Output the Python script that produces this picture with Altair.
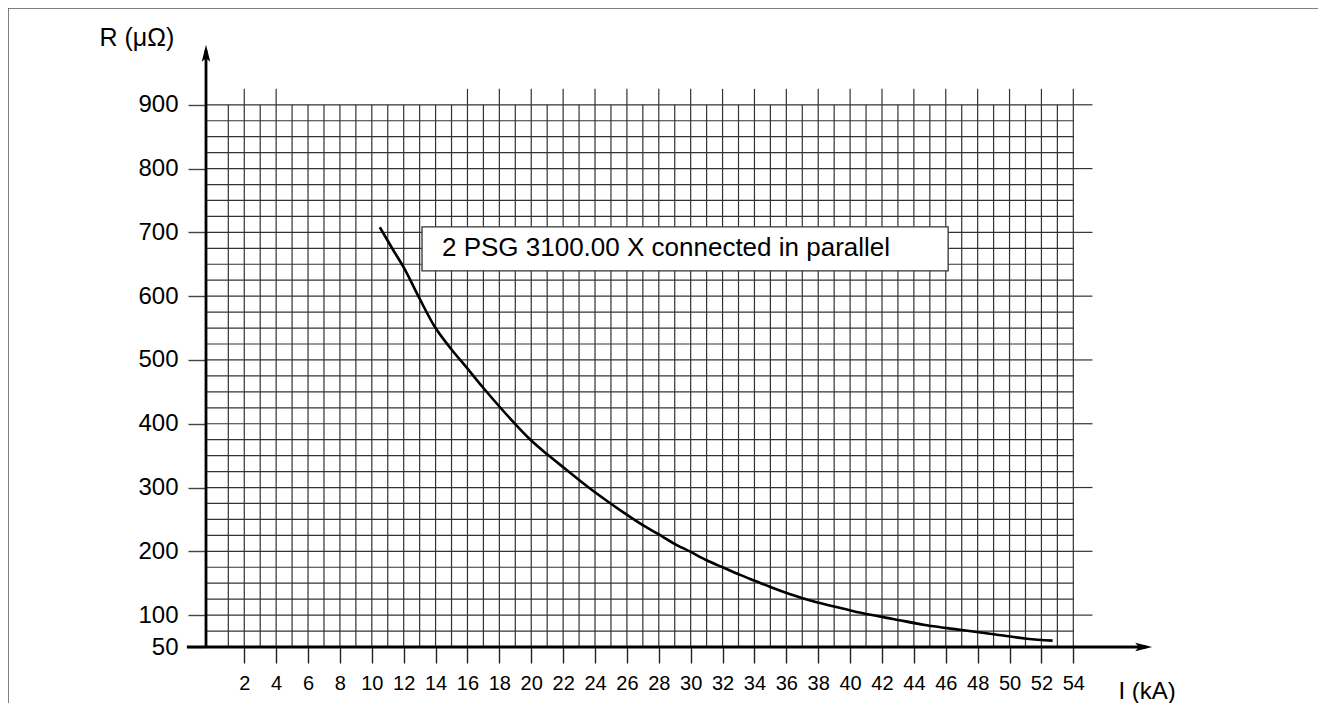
import altair as alt
import pandas as pd

# ---- data ----
current_ka = [10.5, 11.35, 12.0, 13.0, 13.9, 14.95, 15.95, 17.0, 18.0, 18.9, 19.9,
              21.0, 22.2, 23.5, 24.8, 25.9, 27.0, 27.9, 28.9, 30.0, 31.0, 32.0,
              33.1, 34.1, 35.0, 36.2, 37.9, 39.6, 40.6, 42.7, 44.8, 46.9, 49.0,
              51.1, 52.7]
resistance = [708, 672, 645, 596, 554, 518, 488, 456, 427, 402, 376,
              352, 328, 302, 278, 259, 241, 228, 213, 199, 186, 175,
              163, 153, 144, 133, 120, 110, 104, 94, 84, 77, 70,
              63, 60]

x_tick_labels = [2, 4, 6, 8, 10, 12, 14, 16, 18, 20, 22, 24, 26, 28, 30, 32, 34,
                 36, 38, 40, 42, 44, 46, 48, 50, 52, 54]
y_tick_labels = [50, 100, 200, 300, 400, 500, 600, 700, 800, 900]
x_grid = list(range(1, 55))
y_grid = list(range(75, 901, 25))
y_major = [100, 200, 300, 400, 500, 600, 700, 800, 900]
top_ext = [2, 4, 16, 18, 20, 22, 24, 26, 28, 30, 32, 34, 36, 38, 40, 42, 44, 46,
           48, 50, 52, 54]

note_text = "2 PSG 3100.00 X connected in parallel"
note_box = {"x": 13.15, "x2": 46.15, "y": 639.7, "y2": 708.7}
note_pos = {"x": 14.4, "y": 663.7}

X_MIN, X_MAX = -0.4, 59.5
Y_MIN, Y_MAX = 50, 1000
FONT = "Liberation Sans"
GRID = "#333333"

xs = alt.Scale(domain=[X_MIN, X_MAX], nice=False, zero=False)
ys = alt.Scale(domain=[Y_MIN, Y_MAX], nice=False, zero=False)

XA = alt.Axis(
    values=x_tick_labels, domain=False, grid=False, tickSize=16,
    tickColor="#222", tickWidth=1.4, labelFont=FONT, labelFontSize=20,
    labelColor="black", labelPadding=10, labelOverlap=False, labelFlush=False,
    title="I (kA)", titleFont=FONT, titleFontSize=24, titleFontWeight="normal",
    titleColor="black", titleX=912, titleY=51, titleAlign="left",
    titleBaseline="alphabetic")
YA = alt.Axis(
    values=y_tick_labels, domain=False, grid=False, tickSize=18,
    tickColor="#444", tickWidth=1.4, labelFont=FONT, labelFontSize=24,
    labelColor="black", labelPadding=10, labelOverlap=False,
    title="R (μΩ)", titleFont=FONT, titleFontSize=25, titleFontWeight="normal",
    titleColor="black", titleX=-107, titleY=4, titleAngle=0,
    titleAlign="left", titleBaseline="alphabetic")


def X(f="x"):
    return alt.X(f + ":Q", scale=xs, axis=XA)


def Y(f="y"):
    return alt.Y(f + ":Q", scale=ys, axis=YA)


vgrid_df = pd.DataFrame({"x": x_grid, "y": 50, "y2": 900})
top_df = pd.DataFrame({"x": top_ext, "y": 900, "y2": 925})
hgrid_df = pd.DataFrame({"y": y_grid, "x": X_MIN, "x2": 54})
hmaj_df = pd.DataFrame({"y": y_major, "x": 54, "x2": 55.2})
curve_df = pd.DataFrame({"x": current_ka, "y": resistance})

vgrid = alt.Chart(vgrid_df).mark_rule(color=GRID, strokeWidth=1.2).encode(
    x=X(), y=Y(), y2="y2:Q")

top = alt.Chart(top_df).mark_rule(color=GRID, strokeWidth=1.2).encode(
    x=X(), y=Y(), y2="y2:Q")

hgrid = alt.Chart(hgrid_df).mark_rule(color=GRID, strokeWidth=1.2).encode(
    y=Y(), x=X(), x2="x2:Q")

hmaj = alt.Chart(hmaj_df).mark_rule(color=GRID, strokeWidth=1.2).encode(
    y=Y(), x=X(), x2="x2:Q")

axes_df = pd.DataFrame({"x": [-1.6, X_MIN], "x2": [58.57, X_MIN],
                        "y": [50, 49], "y2": [50, 985]})
axis_lines = alt.Chart(axes_df).mark_rule(color="black", strokeWidth=2.8).encode(
    x=X(), x2="x2:Q", y=Y(), y2="y2:Q")

arrow_x = alt.Chart(pd.DataFrame({"x": [58.95], "y": [50]})).mark_point(
    shape="M-1,-0.5L1,0L-1,0.5L-0.6,0Z", size=289, filled=True, color="black",
    opacity=1, xOffset=-8.5).encode(x=X(), y=Y())

arrow_y = alt.Chart(pd.DataFrame({"x": [X_MIN], "y": [994.2]})).mark_point(
    shape="M-0.5,1L0,-1L0.5,1L0,0.6Z", size=289, filled=True, color="black",
    opacity=1, yOffset=8.5).encode(x=X(), y=Y())

curve = alt.Chart(curve_df).mark_line(color="black", strokeWidth=2.6,
                                      interpolate="monotone").encode(
    x=X(), y=Y(), order="x:Q")

box = alt.Chart(pd.DataFrame([note_box])).mark_rect(
    fill="white", stroke="#333", strokeWidth=1.3).encode(
    x=X(), x2="x2:Q", y=Y(), y2="y2:Q")

note = alt.Chart(pd.DataFrame([{**note_pos, "t": note_text}])).mark_text(
    font=FONT, fontSize=26, align="left", baseline="alphabetic", color="black").encode(
    x=X(), y=Y(), text="t:N")

frame_df = pd.DataFrame({"k": [0]})
frame_top = alt.Chart(frame_df).mark_rule(color="#555", strokeWidth=1.5).encode(
    x=alt.value(-198), x2=alt.value(1130), y=alt.value(-33))
frame_left = alt.Chart(frame_df).mark_rule(color="#555", strokeWidth=1.5).encode(
    x=alt.value(-198), y=alt.value(-33), y2=alt.value(670))

chart = alt.layer(
    vgrid, top, hgrid, hmaj, curve, box, note, axis_lines, arrow_x, arrow_y,
    frame_top, frame_left,
).properties(
    width=955, height=606,
    autosize=alt.AutoSizeParams(type="none"),
    padding={"left": 198, "top": 33, "right": 157, "bottom": 56},
).configure(background="white").configure_view(stroke=None)

chart.save("out.html", embed_options={"renderer": "svg", "actions": False})
